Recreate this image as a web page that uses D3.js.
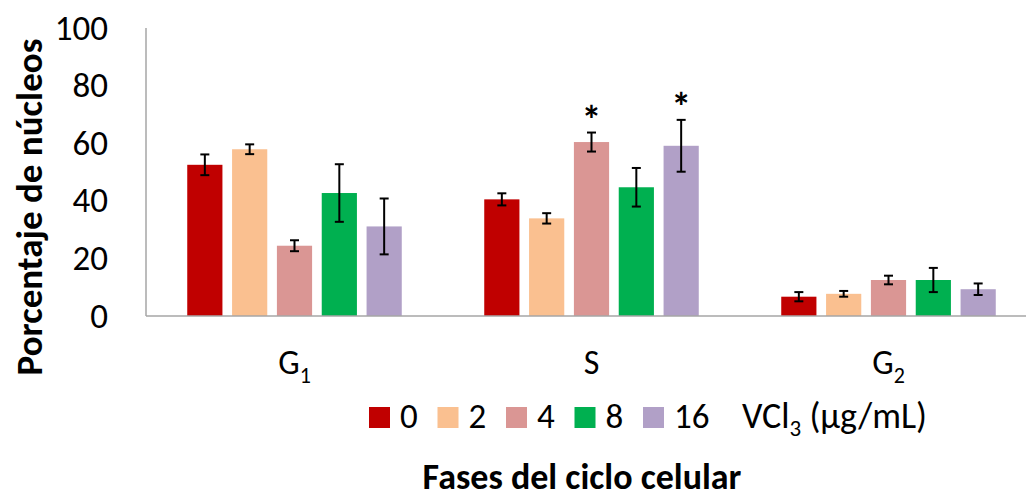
<!DOCTYPE html>
<html><head><meta charset="utf-8">
<script src="https://cdn.jsdelivr.net/npm/d3@7"></script>
<style>
body{margin:0;background:#fff;}
text{font-family:Carlito,Lato,"Open Sans",sans-serif;fill:#000;}
</style></head>
<body><svg id="c" width="1026" height="498"></svg>
<script>
const phases = ["G1","S","G2"];
const phaseMain = ["G","S","G"];
const phaseSub = ["1","","2"];
const doses = ["0","2","4","8","16"];
const colors = ["#C00000","#FAC090","#DA9694","#00B050","#B1A0C7"];
const values = [
  [52.5, 57.9, 24.4, 42.7, 31.1],
  [40.5, 33.9, 60.4, 44.7, 59.1],
  [6.7, 7.7, 12.5, 12.5, 9.3]
];
const errors = [
  [3.6, 1.7, 1.9, 10.0, 9.7],
  [2.1, 1.8, 3.3, 6.7, 9.0],
  [1.6, 1.0, 1.5, 4.2, 2.0]
];
const stars = [
  [false,false,false,false,false],
  [false,false,true,false,true],
  [false,false,false,false,false]
];
const yTicks = [0,20,40,60,80,100];

const svg = d3.select("#c");
const x0 = d3.scaleBand().domain(phases).range([146, 1037]).paddingInner(0).paddingOuter(0);
const x1 = d3.scaleBand().domain(doses).range([0, x0.bandwidth()]).paddingInner(0.215).paddingOuter(0.92);
const y = d3.scaleLinear().domain([0,100]).range([316, 28]);

// y axis line
svg.append("line").attr("x1",146).attr("x2",146).attr("y1",y(100)).attr("y2",y(0))
  .attr("stroke","#A6A6A6").attr("stroke-width",1.5);
// y tick labels
svg.selectAll(".yt").data(yTicks).enter().append("text")
  .attr("x",108).attr("y",d=>y(d)).attr("dy","0.33em").attr("text-anchor","end")
  .style("font-size","35px").text(d=>d);

// bars
const g = svg.selectAll(".grp").data(phases).enter().append("g")
  .attr("transform",d=>`translate(${x0(d)},0)`);
g.each(function(p,i){
  const gg = d3.select(this);
  doses.forEach((d,j)=>{
    const v = values[i][j], e = errors[i][j];
    const bx = x1(d), bw = x1.bandwidth(), cx = bx + bw/2;
    gg.append("rect").attr("x",bx).attr("y",y(v)).attr("width",bw).attr("height",y(0)-y(v))
      .attr("fill",colors[j]);
    gg.append("line").attr("x1",cx).attr("x2",cx).attr("y1",y(v+e)).attr("y2",y(v-e))
      .attr("stroke","#000").attr("stroke-width",2);
    [v+e, v-e].forEach(t=>{
      gg.append("line").attr("x1",cx-4.5).attr("x2",cx+4.5).attr("y1",y(t)).attr("y2",y(t))
        .attr("stroke","#000").attr("stroke-width",2);
    });
    if(stars[i][j]){
      gg.append("text").attr("x",cx).attr("y",y(v+e)+1).attr("text-anchor","middle")
        .style("font-size","40px").style("font-weight","bold").text("*");
    }
  });
});

// x axis line
svg.append("line").attr("x1",146).attr("x2",1026).attr("y1",y(0)).attr("y2",y(0))
  .attr("stroke","#A6A6A6").attr("stroke-width",1.5);

// x labels
phases.forEach((p,i)=>{
  const t = svg.append("text").attr("x",x0(p)+x0.bandwidth()/2).attr("y",374)
    .attr("text-anchor","middle").style("font-size","34px");
  t.append("tspan").text(phaseMain[i]);
  if(phaseSub[i]) t.append("tspan").attr("dy",9).style("font-size","22px").text(phaseSub[i]);
});

// y title
svg.append("text").attr("transform","translate(42,207) rotate(-90)")
  .attr("text-anchor","middle").style("font-size","37px").style("font-weight","bold")
  .text("Porcentaje de núcleos");

// legend
const legScale = d3.scalePoint().domain(doses).range([369, 643]);
const leg = svg.append("g");
doses.forEach((d,j)=>{
  const lx = legScale(d);
  leg.append("rect").attr("x",lx).attr("y",407).attr("width",21).attr("height",21).attr("fill",colors[j]);
  leg.append("text").attr("x",lx+31).attr("y",428).style("font-size","35px").text(d);
});
const lt = leg.append("text").attr("x",742).attr("y",428).style("font-size","36px");
lt.append("tspan").text("VCl");
lt.append("tspan").attr("dy",8).style("font-size","23px").text("3");
lt.append("tspan").attr("dy",-8).text(" (µg/mL)");

// x title
svg.append("text").attr("x",582).attr("y",489).attr("text-anchor","middle")
  .style("font-size","36px").style("font-weight","bold").text("Fases del ciclo celular");
</script></body></html>
